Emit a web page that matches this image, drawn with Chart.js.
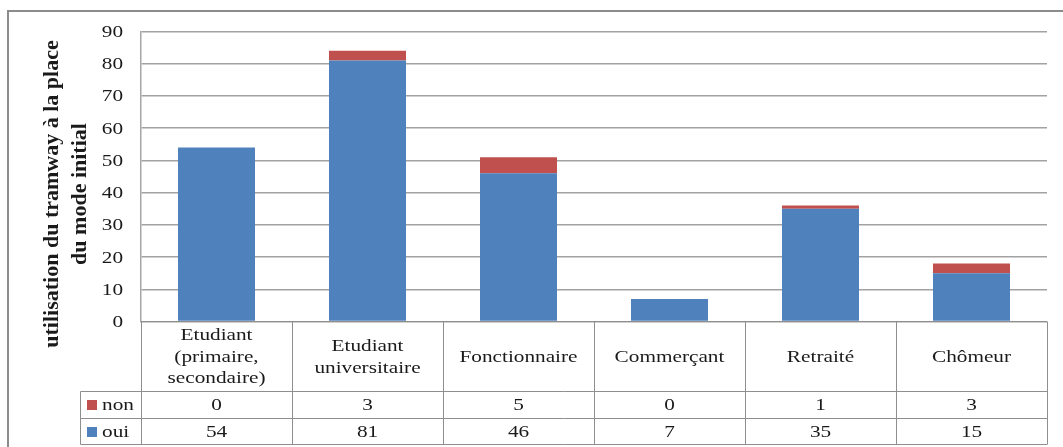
<!DOCTYPE html>
<html lang="fr">
<head>
<meta charset="utf-8">
<script src="https://cdn.jsdelivr.net/npm/chart.js@4/dist/chart.umd.min.js"></script>
<style>
  html, body { margin: 0; padding: 0; background: #ffffff; }
  #wrap { width: 1063px; height: 447px; position: relative; }
</style>
</head>
<body>
<div id="wrap"><canvas id="chart" width="1063" height="447"></canvas></div>
<script>
// Catégories professionnelles (libellés sur plusieurs lignes)
const categories = [
  ['Etudiant', '(primaire,', 'secondaire)'],
  ['Etudiant', 'universitaire'],
  ['Fonctionnaire'],
  ['Commerçant'],
  ['Retraité'],
  ['Chômeur']
];
// Réponses : utilisation du tramway à la place du mode initial
const oui = [54, 81, 46, 7, 35, 15];
const non = [0, 3, 5, 0, 1, 3];
const seriesNames = ['non', 'oui'];
const yMin = 0, yMax = 90, yStep = 10;
const axisTitle = ['utilisation du tramway à la place', 'du mode initial'];

const BLUE = '#4f81bd';
const RED = '#c0504d';
const TEXT = '#1a1a1a';
const LINE = '#8e8e8e';
const FONT = '17px "Liberation Serif", "Times New Roman", serif';
const STRETCH = 1.25;

function stretchedText(ctx, txt, x, y, align) {
  ctx.save();
  ctx.translate(x, y);
  ctx.scale(STRETCH, 1);
  ctx.textAlign = align;
  ctx.fillText(txt, 0, 0);
  ctx.restore();
}

// Cadre, graduations, titre d'axe et tableau de données
const tablePlugin = {
  id: 'dataTable',
  beforeDraw(chart) {
    const ctx = chart.ctx;
    ctx.save();
    ctx.fillStyle = '#ffffff';
    ctx.fillRect(0, 0, chart.width, chart.height);
    ctx.strokeStyle = '#8c8c8c';
    ctx.lineWidth = 2;
    ctx.beginPath();
    ctx.moveTo(8, chart.height + 2);
    ctx.lineTo(8, 11);
    ctx.lineTo(chart.width + 2, 11);
    ctx.stroke();
    ctx.restore();
  },
  afterDraw(chart) {
    const ctx = chart.ctx;
    const area = chart.chartArea;
    const xs = chart.scales.x;
    const ys = chart.scales.y;
    const n = categories.length;
    const colW = area.width / n;

    ctx.save();
    ctx.fillStyle = TEXT;
    ctx.font = FONT;
    ctx.textBaseline = 'middle';

    // graduations de l'axe vertical
    ys.ticks.forEach(t => {
      stretchedText(ctx, String(t.value), 123, ys.getPixelForValue(t.value) + 1, 'right');
    });

    // titre de l'axe vertical
    ctx.save();
    ctx.font = 'bold 22px "Liberation Serif", "Times New Roman", serif';
    ctx.textAlign = 'center';
    ctx.translate(0, 194);
    ctx.rotate(-Math.PI / 2);
    ctx.fillText(axisTitle[0], 0, 52);
    ctx.fillText(axisTitle[1], 0, 80);
    ctx.restore();

    // tableau
    const yHead = 321.5, yNon = 391.5, yOui = 418.5, yEnd = 444.5;
    const legendLeft = 80.5;
    ctx.strokeStyle = LINE;
    ctx.lineWidth = 1;
    ctx.beginPath();
    ctx.moveTo(area.left, yHead); ctx.lineTo(area.right, yHead);
    [yNon, yOui, yEnd].forEach(y => { ctx.moveTo(legendLeft, y); ctx.lineTo(area.right, y); });
    for (let i = 0; i <= n; i++) {
      const x = Math.round(area.left + i * colW) + 0.5;
      ctx.moveTo(x, yHead); ctx.lineTo(x, yEnd);
    }
    ctx.moveTo(legendLeft, yNon); ctx.lineTo(legendLeft, yEnd);
    ctx.stroke();

    // libellés des catégories
    const headMid = (yHead + yNon) / 2 + 1;
    const lh = 21.5;
    categories.forEach((lines, i) => {
      const cx = xs.getPixelForValue(i);
      const y0 = headMid - (lines.length - 1) * lh / 2;
      lines.forEach((ln, k) => stretchedText(ctx, ln, cx, y0 + k * lh, 'center'));
    });

    // légende et valeurs
    const rows = [
      { name: seriesNames[0], color: RED, vals: non, mid: (yNon + yOui) / 2 + 1 },
      { name: seriesNames[1], color: BLUE, vals: oui, mid: (yOui + yEnd) / 2 + 1 }
    ];
    rows.forEach(r => {
      ctx.fillStyle = r.color;
      ctx.fillRect(87, Math.round(r.mid - 6), 10, 10);
      ctx.fillStyle = TEXT;
      stretchedText(ctx, r.name, 102, r.mid, 'left');
      r.vals.forEach((v, i) => {
        stretchedText(ctx, String(v), xs.getPixelForValue(i), r.mid, 'center');
      });
    });
    ctx.restore();
  }
};

new Chart(document.getElementById('chart'), {
  type: 'bar',
  data: {
    labels: categories,
    datasets: [
      { label: seriesNames[1], data: oui, backgroundColor: BLUE, borderWidth: 0 },
      { label: seriesNames[0], data: non, backgroundColor: RED, borderWidth: 0 }
    ]
  },
  options: {
    responsive: false,
    animation: false,
    events: [],
    layout: { padding: { top: 31.5, right: 16, bottom: 125.5, left: 0 } },
    datasets: { bar: { categoryPercentage: 1, barPercentage: 0.51 } },
    plugins: { legend: { display: false }, tooltip: { enabled: false } },
    scales: {
      x: {
        stacked: true,
        display: false
      },
      y: {
        stacked: true,
        min: yMin,
        max: yMax,
        ticks: { display: false, stepSize: yStep },
        grid: { color: '#a2a2a2', lineWidth: 1.5, drawTicks: false },
        border: { display: true, color: '#a6a6a6', width: 1.5 },
        afterFit(scale) { scale.width = 141; }
      }
    }
  },
  plugins: [tablePlugin]
});
</script>
</body>
</html>
